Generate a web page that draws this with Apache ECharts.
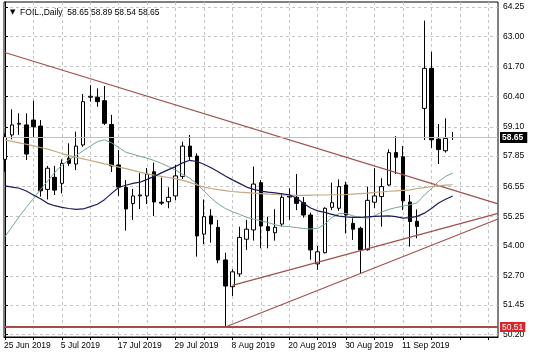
<!DOCTYPE html>
<html><head><meta charset="utf-8">
<script src="https://cdn.jsdelivr.net/npm/echarts@6/dist/echarts.min.js"></script>
<style>html,body{margin:0;padding:0;background:#fff}#c{width:536px;height:358px}</style>
</head><body><div id="c"></div>
<script>
// ---- data ----
const dates = ['25 Jun 2019','26 Jun 2019','27 Jun 2019','28 Jun 2019','1 Jul 2019','2 Jul 2019','3 Jul 2019','4 Jul 2019',
 '5 Jul 2019','8 Jul 2019','9 Jul 2019','10 Jul 2019','11 Jul 2019','12 Jul 2019','15 Jul 2019','16 Jul 2019',
 '17 Jul 2019','18 Jul 2019','19 Jul 2019','22 Jul 2019','23 Jul 2019','24 Jul 2019','25 Jul 2019','26 Jul 2019',
 '29 Jul 2019','30 Jul 2019','31 Jul 2019','1 Aug 2019','2 Aug 2019','5 Aug 2019','6 Aug 2019','7 Aug 2019',
 '8 Aug 2019','9 Aug 2019','12 Aug 2019','13 Aug 2019','14 Aug 2019','15 Aug 2019','16 Aug 2019','19 Aug 2019',
 '20 Aug 2019','21 Aug 2019','22 Aug 2019','23 Aug 2019','26 Aug 2019','27 Aug 2019','28 Aug 2019','29 Aug 2019',
 '30 Aug 2019','2 Sep 2019','3 Sep 2019','4 Sep 2019','5 Sep 2019','6 Sep 2019','9 Sep 2019','10 Sep 2019',
 '11 Sep 2019','12 Sep 2019','13 Sep 2019','16 Sep 2019','17 Sep 2019','18 Sep 2019','19 Sep 2019','20 Sep 2019'];
const opens  = [57.71,58.76,59.22,59.19,59.40,59.14,56.42,56.94,56.68,57.76,57.51,58.33,60.38,60.38,60.23,59.21,
 57.47,56.51,55.81,56.14,56.14,57.18,55.87,55.89,56.14,56.98,58.28,57.85,54.50,55.28,54.79,53.39,
 52.24,52.79,54.28,54.68,56.71,54.82,54.56,54.93,56.09,56.08,55.85,55.32,53.22,53.70,55.65,55.61,
 56.61,54.96,54.75,53.83,55.87,56.11,56.61,58.00,57.82,55.88,55.05,59.90,61.62,58.58,58.08,58.65];
const highs  = [58.83,59.86,59.69,59.69,60.23,59.40,57.43,57.43,57.71,58.40,58.90,60.52,60.90,60.76,60.86,59.62,
 58.11,56.82,56.44,57.12,57.34,57.57,56.93,56.51,57.47,58.47,58.76,57.97,55.99,55.57,55.11,53.70,
 52.99,54.82,55.11,57.40,56.82,55.25,55.57,56.25,56.47,57.08,56.09,55.42,53.99,55.65,56.71,56.85,
 56.75,55.18,54.82,56.54,57.33,56.90,58.14,58.71,58.28,56.18,55.56,63.67,62.33,59.23,59.47,58.89];
const lows   = [57.18,58.57,58.76,57.68,58.68,56.11,55.99,56.18,56.25,57.43,57.25,58.25,60.19,59.97,59.19,57.17,
 56.14,54.65,55.11,55.58,55.79,55.28,55.75,55.61,55.96,56.87,57.66,53.53,54.07,54.13,53.25,50.51,
 51.84,52.67,53.82,54.22,53.89,53.89,54.22,54.82,55.11,55.53,55.21,53.40,52.96,53.67,55.53,55.50,
 54.53,54.25,52.82,53.79,55.62,54.82,56.57,57.08,55.53,53.96,54.32,58.54,58.20,57.51,58.00,58.54];
const closes = [58.66,59.19,59.26,57.94,59.11,56.36,57.33,56.39,57.54,57.54,58.28,60.19,60.42,60.19,59.26,57.43,
 56.52,55.58,56.14,56.18,57.08,55.88,55.83,56.08,57.00,58.28,57.83,54.42,55.25,54.93,53.39,52.27,
 52.88,54.36,54.71,56.65,54.85,54.65,54.79,56.08,56.13,55.82,55.32,53.82,53.74,55.61,55.85,56.54,
 55.32,54.71,53.83,55.95,56.14,56.54,58.00,57.80,55.93,55.04,54.83,61.62,58.55,58.13,58.61,58.65];
const maSlow = [58.54,58.48,58.42,58.36,58.29,58.22,58.15,58.06,57.96,57.87,57.80,57.73,57.66,57.59,57.52,57.46,
 57.38,57.31,57.24,57.16,57.09,57.03,56.98,56.93,56.88,56.81,56.72,56.61,56.52,56.46,56.41,56.37,
 56.33,56.30,56.28,56.26,56.24,56.22,56.20,56.18,56.17,56.16,56.16,56.17,56.18,56.18,56.19,56.19,
 56.20,56.22,56.24,56.26,56.29,56.31,56.34,56.36,56.38,56.40,56.46,56.50,56.54,56.57,56.60,56.62];
const maMid = [56.57,56.52,56.47,56.35,56.18,56.02,55.82,55.72,55.65,55.60,55.56,55.58,55.68,55.78,55.98,56.25,
 56.50,56.60,56.68,56.73,56.85,56.98,57.13,57.27,57.40,57.56,57.67,57.62,57.50,57.35,57.18,57.00,
 56.83,56.68,56.52,56.42,56.35,56.30,56.27,56.23,56.19,56.05,55.82,55.62,55.50,55.43,55.35,55.27,
 55.24,55.22,55.22,55.24,55.26,55.27,55.28,55.25,55.19,55.21,55.26,55.40,55.60,55.84,56.00,56.14];
const maFast = [54.39,54.82,55.25,55.65,56.02,56.42,56.78,57.15,57.45,57.70,57.88,58.08,58.28,58.47,58.55,58.42,
 58.22,58.02,57.93,57.84,57.76,57.66,57.54,57.40,57.25,57.07,56.90,56.66,56.35,56.05,55.80,55.60,
 55.46,55.35,55.22,55.14,55.07,55.00,54.90,54.84,54.82,54.78,54.74,54.72,54.75,54.92,55.22,55.38,
 55.39,55.28,55.22,55.18,55.28,55.45,55.56,55.64,55.70,55.76,55.85,56.18,56.45,56.76,56.98,57.12];
const priceTicks = [50.20,51.45,52.70,54.00,55.25,56.55,57.85,59.10,60.40,61.70,63.00,64.25];
const dateLabelIdx = [0,8,16,24,32,40,48,56];
const gridIdx = [0,4,8,12,16,20,24,28,32,36,40,44,48,52,56,60,64,68];
const resistance = [[-0.14,62.31],[69.37,55.80]];
const support1 = [[32,52.30],[69.37,55.39]];
const support2 = [[31,50.51],[69.37,55.15]];
const lowLevel = 50.51;
const lastPrice = 58.65;
const headerText = 'FOIL.,Daily  58.65 58.89 58.54 58.65';

const FONT = 'Liberation Sans';
const chart = echarts.init(document.getElementById('c'), null, {renderer:'canvas'});
const candles = dates.map((d,i)=>[i, opens[i], closes[i], lows[i], highs[i]]);
const line = (arr)=>arr.map((v,i)=>[i,v]);
const trend = (pts,color,w)=>({type:'line',data:pts,showSymbol:false,symbol:'none',silent:true,z:4,
  lineStyle:{color:color,width:w},clip:true});

chart.setOption({
  animation:false,
  backgroundColor:'#fff',
  title:{text:'{t|▼}  '+headerText,left:5,top:3,
    textStyle:{fontFamily:FONT,fontSize:8.5,fontWeight:'normal',color:'#000',
      rich:{t:{fontSize:7,color:'#000',fontFamily:'DejaVu Sans'}}}},
  grid:{left:4,right:38,top:2,bottom:21,show:true,borderColor:'#000',borderWidth:1},
  xAxis:{type:'value',min:-0.14,max:69.37,
    axisLine:{show:true,onZero:false,lineStyle:{color:'#000'}},
    axisTick:{show:true,length:3,customValues:gridIdx,lineStyle:{color:'#000'}},
    axisLabel:{customValues:dateLabelIdx,formatter:(v)=>dates[Math.round(v)]||'',align:'left',margin:4,
      fontFamily:FONT,fontSize:8.5,color:'#000',padding:[0,0,0,-1]},
    splitLine:{show:true,lineStyle:{color:'#c4c4c4',type:[3,3],width:1}}},
  yAxis:[{type:'value',position:'right',min:50.08,max:64.47,scale:true,
    axisLine:{show:true,lineStyle:{color:'#000'}},
    axisTick:{show:true,length:3,customValues:priceTicks,lineStyle:{color:'#000'}},
    axisLabel:{customValues:priceTicks,formatter:(v)=>v.toFixed(2),margin:5,fontFamily:FONT,fontSize:8.5,color:'#000'},
    splitLine:{show:true,lineStyle:{color:'#c4c4c4',type:[3,3],width:1}}},
   {type:'value',position:'right',min:50.08,max:64.47,
    axisLine:{show:false},axisTick:{show:false},splitLine:{show:false},
    axisLabel:{customValues:[lowLevel,lastPrice],margin:2,
      formatter:(v)=>(Math.abs(v-lowLevel)<1e-6?'{r|':'{b|')+v.toFixed(2)+'}',
      rich:{r:{backgroundColor:'#d9262b',color:'#fff',fontFamily:FONT,fontSize:8.5,padding:[1,2,0,2]},
            b:{backgroundColor:'#000',color:'#fff',fontFamily:FONT,fontSize:8.5,fontWeight:'bold',padding:[1,4,1,2]}}}}],
  series:[
    {type:'candlestick',data:candles,encode:{x:0,y:[1,2,3,4]},barWidth:4,z:3,silent:true,
     itemStyle:{color:'#fff',color0:'#000',borderColor:'#000',borderColor0:'#000',borderWidth:1},
     markLine:{silent:true,symbol:'none',label:{show:false},animation:false,
       data:[{yAxis:lastPrice,lineStyle:{color:'#c0c0c0',width:1,type:'solid'}},
             {yAxis:lowLevel,lineStyle:{color:'#a84a48',width:2,type:'solid'}}]}},
    {type:'line',data:line(maSlow),showSymbol:false,symbol:'none',silent:true,z:5,lineStyle:{color:'#c6a87e',width:1.2}},
    {type:'line',data:line(maFast),showSymbol:false,symbol:'none',silent:true,z:5,lineStyle:{color:'#72a898',width:1}},
    {type:'line',data:line(maMid),showSymbol:false,symbol:'none',silent:true,z:5,lineStyle:{color:'#1c1c5c',width:1.2}},
    trend(resistance,'#a0504c',1.2),
    trend(support1,'#a0504c',1.2),
    trend(support2,'#a0504c',1.2)
  ]
});
</script></body></html>
